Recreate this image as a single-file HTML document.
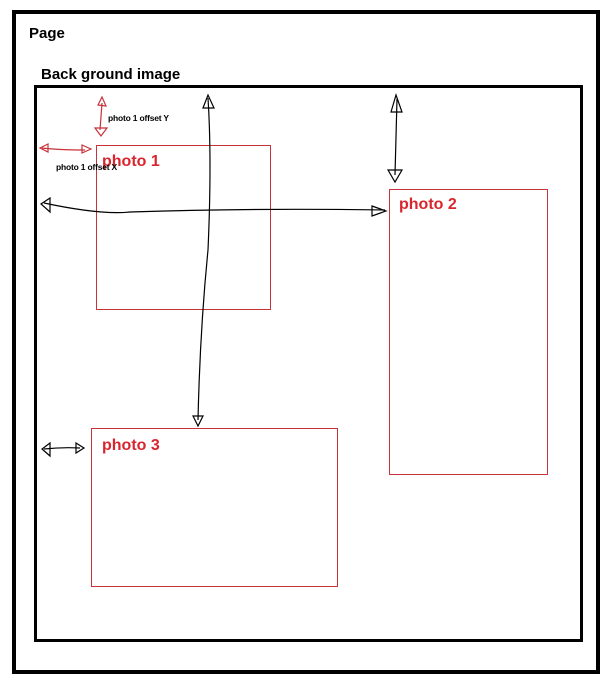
<!DOCTYPE html>
<html><head><style>body{margin:0;background:#fff}svg{display:block}</style></head><body>
<svg width="606" height="680" xmlns="http://www.w3.org/2000/svg" font-family="Liberation Sans, sans-serif">
<rect x="14" y="12" width="584" height="660" fill="none" stroke="#000" stroke-width="4"/>
<text x="29" y="38" font-size="15" font-weight="bold">Page</text>
<text x="41" y="79" font-size="15" font-weight="bold">Back ground image</text>
<rect x="35.5" y="86.5" width="546" height="554" fill="none" stroke="#000" stroke-width="3"/>
<g fill="none" stroke="#c8323a" stroke-width="1">
<rect x="96.5" y="145.5" width="174" height="164"/>
<rect x="389.5" y="189.5" width="158" height="285"/>
<rect x="91.5" y="428.5" width="246" height="158"/>
</g>
<g fill="#d9262e" font-size="16" font-weight="bold">
<text x="102" y="166">photo 1</text>
<text x="399" y="209">photo 2</text>
<text x="102" y="450">photo 3</text>
</g>
<g font-size="8.5" font-weight="bold" fill="#000" letter-spacing="-0.2">
<text x="108" y="121">photo 1 offset Y</text>
<text x="56" y="170">photo 1 offset X</text>
</g>
<g fill="none" stroke="#c8323a" stroke-width="1.2">
<path d="M102 103 L100 130"/><path d="M98 105 L102 97 L106 106 Z"/><path d="M95 128 L101 136 L107 128 Z"/>
<path d="M42 148 Q60 150 85 150"/><path d="M48 144 L40 148 L48 152 Z"/><path d="M82 145 L91 149 L82 153 Z"/>
</g>
<g fill="none" stroke="#000" stroke-width="1.2">
<path d="M44 203 Q100 215 130 212 Q250 208 385 210"/>
<path d="M50 198 L41 204 L50 212 Z"/><path d="M372 206 L386 211 L372 216 Z"/>
<path d="M208 98 Q212 160 208 250 Q200 330 198 420"/>
<path d="M203 108 L208 95 L214 108 Z"/><path d="M193 416 L198 426 L203 416 Z"/>
<path d="M397 99 L395 175"/><path d="M391 112 L396 95 L402 112 Z"/><path d="M388 170 L395 182 L402 170 Z"/>
<path d="M44 449 Q62 447 80 448"/><path d="M50 443 L42 449 L50 456 Z"/><path d="M76 443 L84 448 L76 453 Z"/>
</g>
</svg>
</body></html>
